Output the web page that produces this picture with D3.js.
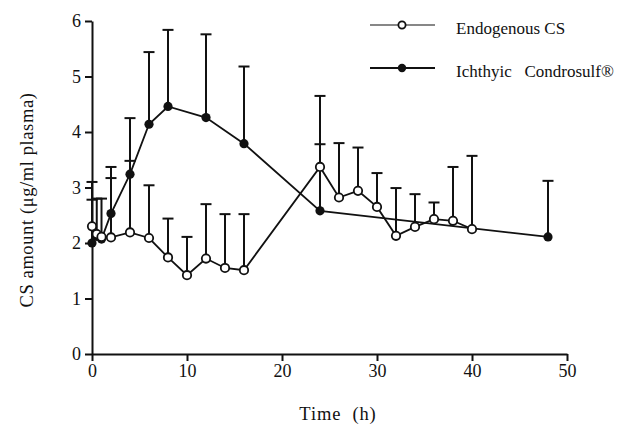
<!DOCTYPE html>
<html>
<head>
<meta charset="utf-8">
<script src="https://cdn.jsdelivr.net/npm/d3@7"></script>
<style>
  html, body { margin: 0; padding: 0; background: #fff; }
  svg { display: block; }
  text { font-family: "Liberation Serif", "Times New Roman", serif; fill: #111; }
</style>
</head>
<body>
<svg id="chart" width="629" height="425"></svg>
<script>
// Sampling times (h) and plasma CS amounts (µg/ml); upper = mean + SD (null = no bar)
const endoTimes = [0, 0.5, 1, 2, 4, 6, 8, 10, 12, 14, 16, 24, 26, 28, 30, 32, 34, 36, 38, 40];
const endoMean  = [2.30, 2.16, 2.11, 2.10, 2.19, 2.09, 1.74, 1.42, 1.72, 1.55, 1.51, 3.37, 2.82, 2.94, 2.65, 2.13, 2.29, 2.43, 2.40, 2.25];
const endoUpper = [2.78, 2.80, null, 3.17, 3.48, 3.04, 2.44, 2.11, 2.70, 2.52, 2.52, 3.78, 3.80, 3.72, 3.26, 2.99, 2.88, 2.73, 3.37, 3.57];

const ichTimes = [0, 0.5, 1, 2, 4, 6, 8, 12, 16, 24, 48];
const ichMean  = [2.00, 2.12, 2.07, 2.53, 3.24, 4.14, 4.46, 4.26, 3.79, 2.58, 2.11];
const ichUpper = [3.10, null, 2.80, 3.37, 4.25, 5.44, 5.84, 5.76, 5.18, 4.65, 3.12];

const xTicks = [0, 10, 20, 30, 40, 50];
const yTicks = [0, 1, 2, 3, 4, 5, 6];

const legendLabels = ["Endogenous CS", "Ichthyic\u00a0\u00a0\u00a0Condrosulf\u00ae"];
const xTitle = "Time\u00a0\u00a0(h)";
const yTitle = "CS amount (\u03bcg/ml plasma)";

const FONT = "'Liberation Serif', 'Times New Roman', serif";
const svg = d3.select("#chart");
const x = d3.scaleLinear().domain([0, 50]).range([92, 567]);
const y = d3.scaleLinear().domain([0, 6]).range([354, 21]);

// Axes
const xAxis = d3.axisBottom(x).tickValues(xTicks).tickFormat(d3.format("d"))
  .tickSize(7).tickSizeOuter(0).tickPadding(3);
const yAxis = d3.axisLeft(y).tickValues(yTicks).tickFormat(d3.format("d"))
  .tickSize(7).tickSizeOuter(0).tickPadding(4);

const gx = svg.append("g").attr("transform", `translate(0,${y(0)})`).call(xAxis);
const gy = svg.append("g").attr("transform", `translate(${x(0)},0)`).call(yAxis);
[gx, gy].forEach(g => {
  g.attr("font-family", FONT).attr("font-size", 18);
  g.select(".domain").attr("stroke", "#111").attr("stroke-width", 2);
  g.selectAll(".tick line").attr("stroke", "#111").attr("stroke-width", 2);
  g.selectAll(".tick text").attr("fill", "#111");
});

svg.append("text")
  .attr("x", 338).attr("y", 420)
  .attr("text-anchor", "middle")
  .style("font-size", "18.5px").style("letter-spacing", "0.9px")
  .text(xTitle);

svg.append("text")
  .attr("transform", "translate(33,200) rotate(-90)")
  .attr("text-anchor", "middle")
  .style("font-size", "18.5px").style("letter-spacing", "0.6px")
  .text(yTitle);

// Series
function drawSeries(times, mean, upper) {
  const pts = times.map((t, i) => ({ t, m: mean[i], u: upper[i] }));
  const g = svg.append("g");
  // upper error bars
  const bars = pts.filter(p => p.u != null);
  g.selectAll("line.bar").data(bars).join("line")
    .attr("x1", p => x(p.t)).attr("x2", p => x(p.t))
    .attr("y1", p => y(p.m)).attr("y2", p => y(p.u))
    .attr("stroke", "#111").attr("stroke-width", 2);
  g.selectAll("line.cap").data(bars).join("line")
    .attr("x1", p => x(p.t) - 5.5).attr("x2", p => x(p.t) + 5.5)
    .attr("y1", p => y(p.u)).attr("y2", p => y(p.u))
    .attr("stroke", "#111").attr("stroke-width", 2);
  // connecting line
  g.append("path").datum(pts)
    .attr("d", d3.line().x(p => x(p.t)).y(p => y(p.m)))
    .attr("fill", "none").attr("stroke", "#111").attr("stroke-width", 1.8);
  return { g, pts };
}

const ich = drawSeries(ichTimes, ichMean, ichUpper);
const endo = drawSeries(endoTimes, endoMean, endoUpper);

ich.g.selectAll("circle").data(ich.pts).join("circle")
  .attr("cx", p => x(p.t)).attr("cy", p => y(p.m)).attr("r", 4.6)
  .attr("fill", "#111");
endo.g.selectAll("circle").data(endo.pts).join("circle")
  .attr("cx", p => x(p.t)).attr("cy", p => y(p.m)).attr("r", 4.2)
  .attr("fill", "#fff").attr("stroke", "#111").attr("stroke-width", 1.8);

// Legend
const legend = svg.append("g");
const legY = [25, 68];
legendLabels.forEach((lab, i) => {
  legend.append("line")
    .attr("x1", 370).attr("x2", 435).attr("y1", legY[i]).attr("y2", legY[i])
    .attr("stroke", "#111").attr("stroke-width", i === 0 ? 1.2 : 1.8);
  legend.append("circle")
    .attr("cx", 402).attr("cy", legY[i]).attr("r", i === 0 ? 3.6 : 4.2)
    .attr("fill", i === 0 ? "#fff" : "#111")
    .attr("stroke", "#111").attr("stroke-width", i === 0 ? 1.8 : 0);
  legend.append("text")
    .attr("x", 456).attr("y", legY[i] + 9)
    .style("font-size", "17px")
    .text(lab);
});
</script>
</body>
</html>
